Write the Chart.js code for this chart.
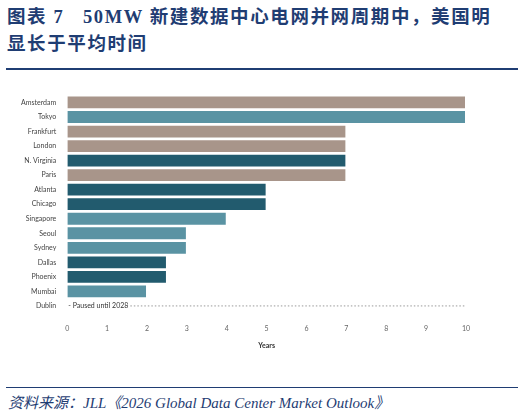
<!DOCTYPE html>
<html><head><meta charset="utf-8">
<script src="https://cdn.jsdelivr.net/npm/chart.js@4"></script>
<style>
body{margin:0;background:#fff;width:524px;height:418px;position:relative;overflow:hidden;font-family:"Noto Sans CJK SC",serif}
#title{position:absolute;left:7px;top:4px;width:516px;color:#1f3d73;font-weight:bold;font-size:18.5px;line-height:27px;letter-spacing:1.6px;font-family:"Liberation Serif","Noto Sans CJK SC",serif;white-space:nowrap}
#rule{position:absolute;left:6px;top:68px;width:512px;height:2px;background:#1f3d73}
#box{position:absolute;left:18px;top:88px;width:464px;height:270px}
#rule2{position:absolute;left:6px;top:387px;width:512px;height:1px;background:#1f3d73}
#src{position:absolute;left:8px;top:391px;font-size:15px;font-style:italic;color:#1f3d73;font-family:"Liberation Serif","Noto Sans CJK SC",serif}
</style></head><body>
<div id="title">图表 7 &nbsp; 50MW 新建数据中心电网并网周期中，美国明<br>显长于平均时间</div>
<div id="rule"></div>
<div id="box"><canvas id="c"></canvas></div>
<div id="rule2"></div>
<div id="src">资料来源：JLL《2026 Global Data Center Market Outlook》</div>
<script>
var cities = ['Amsterdam','Tokyo','Frankfurt','London','N. Virginia','Paris','Atlanta','Chicago','Singapore','Seoul','Sydney','Dallas','Phoenix','Mumbai','Dublin'];
var years = [10,10,7,7,7,7,5,5,4,3,3,2.5,2.5,2,0];
var barColors = ['#a8958a','#5a93a3','#a8958a','#a8958a','#225b6e','#a8958a','#225b6e','#225b6e','#5a93a3','#5a93a3','#5a93a3','#225b6e','#225b6e','#5a93a3','#5a93a3'];
var xTicks = [0,1,2,3,4,5,6,7,8,9,10];

var dublinPlugin = {
  id: 'dublin',
  afterDatasetsDraw: function (chart) {
    var ctx = chart.ctx, x = chart.scales.x, y = chart.scales.y;
    var yy = y.getPixelForValue(cities.length - 1);
    ctx.save();
    ctx.font = '7px Lato';
    ctx.fillStyle = '#333';
    ctx.textBaseline = 'middle';
    var t = '- Paused until 2028';
    ctx.fillText(t, x.getPixelForValue(0) + 1, yy);
    var w = ctx.measureText(t).width;
    ctx.strokeStyle = '#999';
    ctx.setLineDash([1.5, 2]);
    ctx.beginPath();
    ctx.moveTo(x.getPixelForValue(0) + w + 3, yy);
    ctx.lineTo(x.getPixelForValue(10), yy);
    ctx.stroke();
    ctx.restore();
  }
};

new Chart(document.getElementById('c'), {
  type: 'bar',
  data: { labels: cities, datasets: [{ data: years, backgroundColor: barColors, borderColor: '#fff', borderWidth: 1, barPercentage: 1, categoryPercentage: 0.95 }] },
  options: {
    indexAxis: 'y', responsive: true, maintainAspectRatio: false, animation: false,
    layout: { padding: { top: 4, right: 16, bottom: 4 } },
    plugins: { legend: { display: false }, tooltip: { enabled: false } },
    scales: {
      x: { min: 0, max: 10, grid: { display: false }, border: { display: false },
           afterBuildTicks: function (s) { s.ticks = xTicks.map(function (v) { return { value: v }; }); },
           ticks: { font: { size: 7, family: 'Lato' }, color: '#666' },
           title: { display: true, text: 'Years', align: 'center', font: { size: 7, family: 'Lato', weight: 'bold' }, color: '#333', padding: { top: 6 } } },
      y: { grid: { display: false }, border: { display: false },
           ticks: { font: { size: 7, family: 'Lato' }, color: '#444' } }
    }
  },
  plugins: [dublinPlugin]
});
</script>
</body></html>
